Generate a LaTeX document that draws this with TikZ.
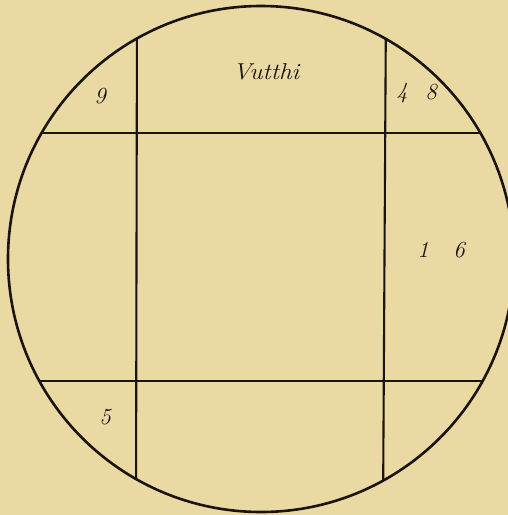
\documentclass[tikz,border=0pt]{standalone}
\usepackage{fontspec}
\setmainfont{Latin Modern Roman}
\definecolor{paper}{HTML}{EAD9A2}
\definecolor{ink}{HTML}{1A1410}
\begin{document}
\begin{tikzpicture}[x=1pt,y=-1pt,
  rim/.style={draw=ink,line width=2.6pt},
  grid/.style={draw=ink,line width=2.1pt},
  lbl/.style={text=ink,font=\fontsize{23}{23}\selectfont\itshape,inner sep=0pt}]
\fill[paper] (0,0) rectangle (508,515);
\useasboundingbox (0,0) rectangle (508,515);
\coordinate (c) at (261,259);
\begin{scope}
\clip (c) circle (253);
\draw[grid] (137,0) -- (136,515);
\draw[grid] (386,0) -- (383,515);
\draw[grid] (0,133) -- (508,133);
\draw[grid] (0,381) -- (508,381);
\end{scope}
\draw[rim] (c) circle (253);
\node[lbl] (n9) at (100,96) {9};
\node[lbl] (v) at (266,72) {\scalebox{1.1}[1]{Vutthi}};
\node[lbl] (n4) at (402,93) {4};
\node[lbl] (n8) at (431,92) {8};
\node[lbl] (n1) at (423,250) {1};
\node[lbl] (n6) at (459,250) {6};
\node[lbl] (n5) at (105,417) {5};
\end{tikzpicture}
\end{document}
